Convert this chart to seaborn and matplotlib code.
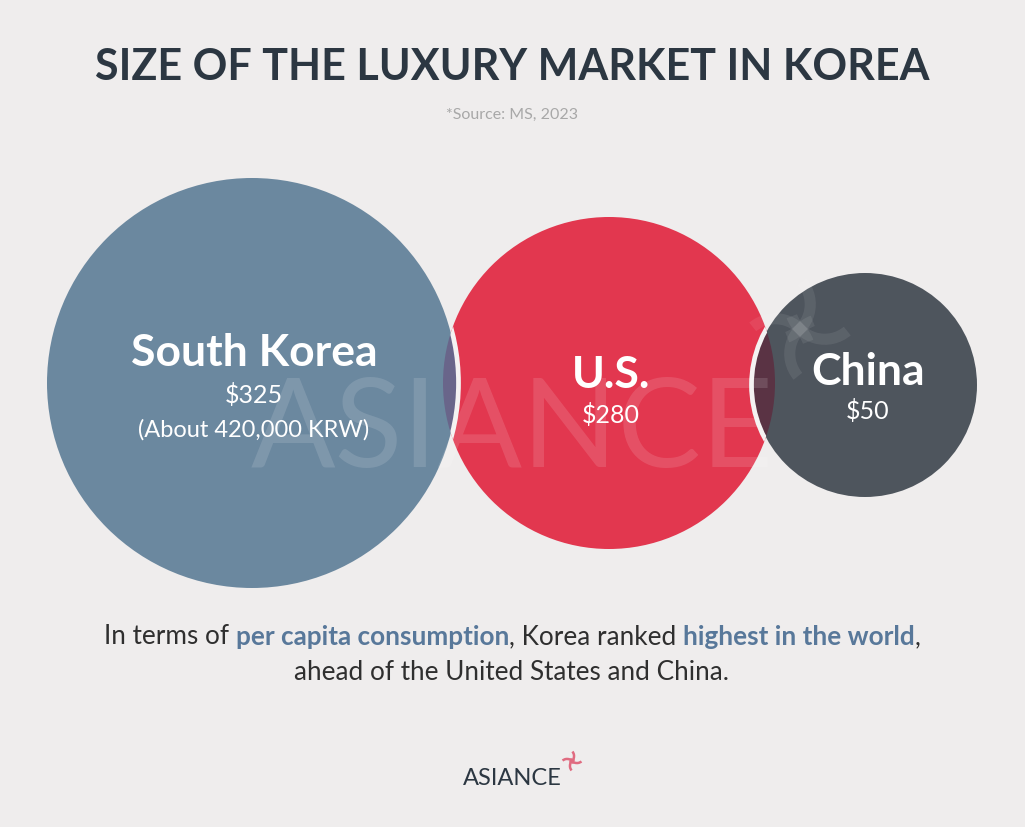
import numpy as np
import matplotlib
matplotlib.use("Agg")
import matplotlib.pyplot as plt
from matplotlib.patches import Circle, Arc
import seaborn as sns

# Data
countries = ["South Korea", "U.S.", "China"]
spend_usd = [325, 280, 50]
extra_notes = ["(About 420,000 KRW)", "", ""]

title = "SIZE OF THE LUXURY MARKET IN KOREA"
source = "*Source: MS, 2023"

# Layout (pixels): centre x, centre y, radius
layout = {
    "South Korea": (252, 384, 205),
    "U.S.": (609, 384, 166),
    "China": (865, 386, 112),
}
colors = {"South Korea": "#6b889f", "U.S.": "#e2374f", "China": "#4e555d"}
blend = {"South Korea": "#69658a", "China": "#5a3344"}
label_pos = {"South Korea": (254, (353, 395, 430)),
             "U.S.": (611, (375, 415)),
             "China": (868, (372, 411))}

BG = "#efeded"
DARK = "#2c3742"
HIGHLIGHT = "#58789a"

sns.set_theme(style="white")
plt.rcParams["font.family"] = ["Lato", "DejaVu Sans"]

fig = plt.figure(figsize=(10.25, 8.28), dpi=100, facecolor=BG)
ax = fig.add_axes([0, 0, 1, 1])
ax.set_facecolor(BG)
ax.set_xlim(0, 1025)
ax.set_ylim(828, 0)
ax.axis("off")

# back circle: U.S.
ux, uy, ur = layout["U.S."]
back = Circle((ux, uy), ur, facecolor=colors["U.S."], edgecolor="none", zorder=1)
ax.add_patch(back)

# front circles with overlap blended, white rim only over the red
for name in ["South Korea", "China"]:
    cx, cy, r = layout[name]
    front = Circle((cx, cy), r, facecolor=colors[name], edgecolor="none", zorder=2)
    ax.add_patch(front)
    ov = Circle((ux, uy), ur, facecolor=blend[name], edgecolor="none", zorder=3)
    ax.add_patch(ov)
    ov.set_clip_path(front)
    rim = Circle((cx, cy), r + 1.5, facecolor="none", edgecolor="#f4f2f2", lw=3.4, zorder=4)
    ax.add_patch(rim)
    rim.set_clip_path(Circle((ux, uy), ur, transform=ax.transData))


def swirl(cx, cy, size, **kw):
    # four curved blades like the brand mark
    for k in range(4):
        a = 90 * k + 45
        ra = np.deg2rad(a)
        ax.add_patch(Arc((cx + size * np.cos(ra), cy - size * np.sin(ra)),
                         2 * size, 2 * size, angle=-a, theta1=95, theta2=205, **kw))


# faint swirl behind china
swirl(800, 330, 35, color="white", alpha=0.08, lw=8, zorder=5)

# watermark
ax.text(512, 432, "ASIANCE", fontsize=90, color="white", alpha=0.13,
        fontweight="normal", ha="center", va="center", zorder=5)

# circle labels
for name, val, note in zip(countries, spend_usd, extra_notes):
    cx, ys = label_pos[name]
    ax.text(cx, ys[0], name, fontsize=32, fontweight="bold", color="white",
            ha="center", va="center", zorder=6)
    ax.text(cx, ys[1], f"${val}", fontsize=18, color="white",
            ha="center", va="center", zorder=6)
    if note:
        ax.text(cx, ys[2], note, fontsize=17, color="white",
                ha="center", va="center", zorder=6)

# title and source
ax.text(512, 67, title, fontsize=31, fontweight="bold", color=DARK,
        ha="center", va="center")
ax.text(512, 115, source, fontsize=11.5, color="#a8a8a8", ha="center", va="center")

# rich caption
renderer = fig.canvas.get_renderer()


def width_of(s, **kw):
    t = ax.text(0, 0, s, **kw)
    w = t.get_window_extent(renderer).width
    t.remove()
    return w


def rich_line(y, parts, size):
    items = []
    total = 0
    for s, c, wt in parts:
        kw = dict(fontsize=size, color=c, fontweight=wt)
        core = s.strip()
        lead = len(s) - len(s.lstrip())
        trail = len(s) - len(s.rstrip())
        sp = width_of("a a", **kw) - width_of("aa", **kw)
        w = width_of(core, **kw)
        items.append((core, kw, lead * sp, w, trail * sp))
        total += lead * sp + w + trail * sp
    x = 512.5 - total / 2
    for core, kw, l, w, tr in items:
        x += l
        ax.text(x, y, core, ha="left", va="center", **kw)
        x += w + tr


caption1 = [("In terms of ", "#2f2f2f", "normal"),
            ("per capita consumption", HIGHLIGHT, "bold"),
            (", Korea ranked ", "#2f2f2f", "normal"),
            ("highest in the world", HIGHLIGHT, "bold"),
            (",", "#2f2f2f", "normal")]
rich_line(637, caption1, 18.8)
ax.text(512, 673, "ahead of the United States and China.", fontsize=18.8,
        color="#2f2f2f", ha="center", va="center")

# logo
ax.text(512, 779, "ASIANCE", fontsize=17, color=DARK, ha="center", va="center")
swirl(572, 762, 7, color="#e06b80", lw=1.8)

fig.savefig("out.png", dpi=100, facecolor=BG)
